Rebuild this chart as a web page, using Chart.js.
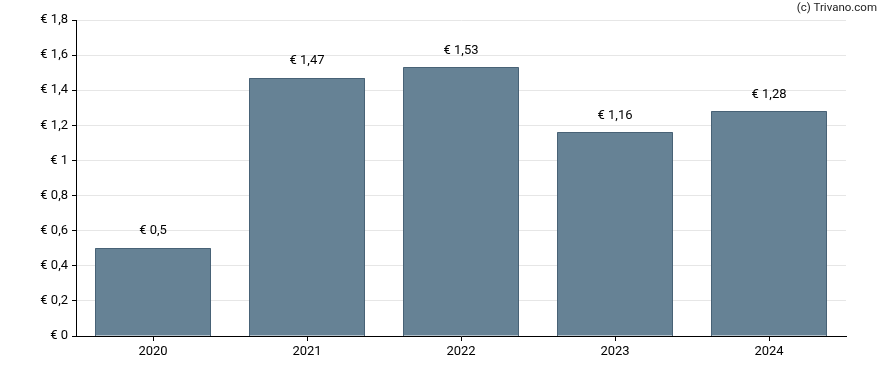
<!DOCTYPE html>
<html>
<head>
<meta charset="utf-8">
<script src="https://cdn.jsdelivr.net/npm/chart.js@4"></script>
<style>
  html, body { margin: 0; padding: 0; background: #fff; }
  #wrap { position: relative; width: 888px; height: 370px; }
</style>
</head>
<body>
<div id="wrap"><canvas id="divChart"></canvas></div>
<script>
// dividend per year
const years = ['2020', '2021', '2022', '2023', '2024'];
const dividends = [0.5, 1.47, 1.53, 1.16, 1.28];
const yTicks = [0, 0.2, 0.4, 0.6, 0.8, 1, 1.2, 1.4, 1.6, 1.8];

const fmtEuro = v => '€ ' + String(Math.round(v * 100) / 100).replace('.', ',');

// crisp bar outlines, value labels above bars + copyright
const labelPlugin = {
    id: 'labels',
    afterDatasetsDraw(chart) {
        const ctx = chart.ctx;
        const meta = chart.getDatasetMeta(0);
        ctx.save();
        ctx.strokeStyle = 'rgb(72,98,118)';
        ctx.lineWidth = 1;
        meta.data.forEach(bar => {
            const l = Math.round(bar.x - bar.width / 2) + 0.5;
            const r = Math.round(bar.x + bar.width / 2) - 0.5;
            const t = Math.round(bar.y) + 0.5;
            const b = Math.round(bar.base);
            ctx.beginPath();
            ctx.moveTo(l, b);
            ctx.lineTo(l, t);
            ctx.lineTo(r, t);
            ctx.lineTo(r, b);
            ctx.stroke();
        });
        ctx.font = '13px Roboto';
        ctx.fillStyle = '#000';
        ctx.textAlign = 'center';
        ctx.textBaseline = 'middle';
        meta.data.forEach((bar, i) => {
            ctx.fillText(fmtEuro(dividends[i]), bar.x, bar.y - 17);
        });
        ctx.font = '11.5px Roboto';
        ctx.textAlign = 'right';
        ctx.fillStyle = '#222';
        ctx.fillText('(c) Trivano.com', 877, 8);
        ctx.restore();
    }
};

new Chart(document.getElementById('divChart'), {
    type: 'bar',
    data: {
        labels: years,
        datasets: [{
            data: dividends,
            backgroundColor: 'rgb(102,130,149)',
            borderWidth: 0,
            barPercentage: 0.75,
            categoryPercentage: 1
        }]
    },
    options: {
        responsive: true,
        maintainAspectRatio: false,
        animation: false,
        layout: { padding: { top: 20, right: 42, left: 0, bottom: 0 } },
        plugins: { legend: { display: false }, tooltip: { enabled: false } },
        scales: {
            x: {
                grid: { offset: false, drawOnChartArea: false, tickLength: 5, tickColor: '#000' },
                border: { color: '#000', width: 1 },
                ticks: { color: '#000', font: { family: 'Roboto', size: 13 }, padding: 3 },
                afterFit(scale) { scale.height = 34; }
            },
            y: {
                min: 0,
                max: 1.8,
                afterBuildTicks(scale) { scale.ticks = yTicks.map(v => ({ value: v })); },
                grid: { color: '#e6e6e6', tickLength: 4, tickColor: '#000' },
                border: { color: '#000', width: 1 },
                ticks: {
                    color: '#000',
                    font: { family: 'Roboto', size: 13 },
                    padding: 4,
                    callback: v => fmtEuro(v)
                },
                afterFit(scale) { scale.width = 76; }
            }
        }
    },
    plugins: [labelPlugin]
});
</script>
</body>
</html>
